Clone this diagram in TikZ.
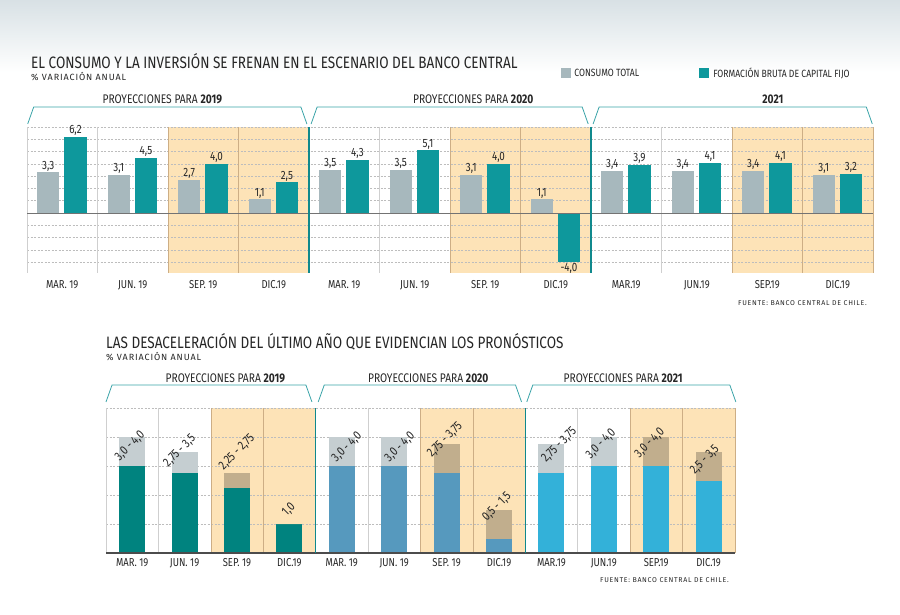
\documentclass[tikz,border=0pt]{standalone}
\usepackage{fontspec}
\setmainfont{Fira Sans}[FakeStretch=0.82]
\newfontfamily\spaced{Fira Sans}[LetterSpace=10]
\usetikzlibrary{positioning}

\definecolor{bgtop}{HTML}{D8E1E5}
\definecolor{ink}{HTML}{262626}
\definecolor{topgray}{HTML}{A7B8BD}
\definecolor{topteal}{HTML}{0E989C}
\definecolor{shadec}{HTML}{FDE3B7}
\definecolor{brk}{HTML}{3AA3A8}
\definecolor{sepc}{HTML}{10898D}
\definecolor{gridc}{HTML}{BDBDBD}
\definecolor{vgray}{HTML}{CFCFCF}
\definecolor{vtan}{HTML}{CDAE85}
\definecolor{upgray}{HTML}{C5CED1}
\definecolor{uptan}{HTML}{C1AE8D}
\definecolor{bteal}{HTML}{00837F}
\definecolor{bblue}{HTML}{5699BE}
\definecolor{bcyan}{HTML}{33B1D9}

\tikzset{
  ttl/.style={font=\fontsize{16.5}{16.5}\selectfont,anchor=base west,inner sep=0pt,text=ink},
  subt/.style={font=\spaced\fontsize{9}{9}\selectfont,anchor=base west,inner sep=0pt,text=ink},
  src/.style={font=\spaced\fontsize{7}{7}\selectfont,anchor=base east,inner sep=0pt,text=ink},
  legtxt/.style={font=\fontsize{10.5}{10.5}\selectfont,inner sep=0pt,text=ink},
  key/.style={minimum size=10pt,inner sep=0pt},
  grp/.style={font=\fontsize{12.5}{12.5}\selectfont,anchor=base,inner sep=0pt,text=ink},
  axl/.style={font=\fontsize{11.5}{11.5}\selectfont,anchor=base,inner sep=0pt,text=ink},
  val/.style={font=\fontsize{12}{12}\selectfont,inner sep=1pt,text=ink},
  rng/.style={font=\fontsize{12.5}{12.5}\selectfont,rotate=45,inner sep=0pt,text=ink},
  gridline/.style={gridc,dash pattern=on 2pt off 1.5pt,line width=0.5pt},
  colline/.style={line width=0.6pt},
  brkt/.style={brk,line width=0.8pt},
  sepline/.style={sepc,line width=1.2pt},
}

\begin{document}
\begin{tikzpicture}[x=1pt,y=-1pt]
\useasboundingbox (0,0) rectangle (900,614);
\shade[top color=bgtop,bottom color=white] (0,0) rectangle (900,72);

% first chart
\node[ttl] (t1) at (31,68) {EL CONSUMO Y LA INVERSIÓN SE FRENAN EN EL ESCENARIO DEL BANCO CENTRAL};
\node[subt] (s1) at (31,80) {\% VARIACIÓN ANUAL};
\node[key,fill=topgray] (k1) at (566,73) {};
\node[legtxt,right=3pt of k1] (k1t) {CONSUMO TOTAL};
\node[key,fill=topteal] (k2) at (704,73) {};
\node[legtxt,right=4pt of k2] (k2t) {FORMACIÓN BRUTA DE CAPITAL FIJO};
\node[src] (f1) at (867,305) {FUENTE: BANCO CENTRAL DE CHILE.};

\begin{scope}[shift={(27,213)},x=70.5pt,y=12.3pt]
\foreach \c in {2,6,10}
  \fill[shadec] (\c,7) rectangle (\c+2,-4.9);
\foreach \v in {7,6,5,4,3,2,1,-1,-2,-3,-4}
  \draw[gridline] (0,\v) -- (12,\v);
\foreach \c/\col in {0/vgray,1/vgray,2/vtan,3/vtan,5/vgray,6/vtan,7/vtan,9/vgray,10/vtan,11/vtan,12/vtan}
  \draw[colline,\col] (\c,7) -- (\c,-4.9);
\foreach \i/\g/\t/\gl/\tl/\m in {0/3.3/6.2/{3,3}/{6,2}/MAR. 19,1/3.1/4.5/{3,1}/{4,5}/JUN. 19,
    2/2.7/4.0/{2,7}/{4,0}/SEP. 19,3/1.1/2.5/{1,1}/{2,5}/DIC.19,4/3.5/4.3/{3,5}/{4,3}/MAR. 19,
    5/3.5/5.1/{3,5}/{5,1}/JUN. 19,6/3.1/4.0/{3,1}/{4,0}/SEP. 19,7/1.1/-4.0/{1,1}/{-4,0}/DIC.19,
    8/3.4/3.9/{3,4}/{3,9}/MAR.19,9/3.4/4.1/{3,4}/{4,1}/JUN.19,10/3.4/4.1/{3,4}/{4,1}/SEP.19,
    11/3.1/3.2/{3,1}/{3,2}/DIC.19}{
  \ifdim\t pt<0pt \def\an{north}\else\def\an{south}\fi
  \fill[topgray] ([xshift=-25pt]\i+0.5,0) rectangle ([xshift=-3pt]\i+0.5,\g);
  \fill[topteal] ([xshift=2pt]\i+0.5,0) rectangle ([xshift=24.5pt]\i+0.5,\t);
  \node[val,anchor=south] (g\i) at ([xshift=-14pt]\i+0.5,\g) {\gl};
  \node[val,anchor=\an] (v\i) at ([xshift=13.25pt]\i+0.5,\t) {\tl};
  \node[axl] (m\i) at (\i+0.5,-6.1) {\m};
}
\draw[gray!110,line width=1pt] (0,0) -- (12,0);
\foreach \c in {4,8}
  \draw[sepline] (\c,7) -- (\c,-4.9);
\foreach \a/\b in {0.01/3.97,4.03/7.96,8.03/11.99}
  \draw[brkt] (\a,7.24) -- ([xshift=6pt]\a,8.62) -- ([xshift=-6pt]\b,8.62) -- (\b,7.24);
\node[grp] (p1) at (1.92,8.92) {PROYECCIONES PARA \textbf{2019}};
\node[grp] (p2) at (6.33,8.92) {PROYECCIONES PARA \textbf{2020}};
\node[grp] (p3) at (10.58,8.92) {\textbf{2021}};
\end{scope}

% second chart
\node[ttl] (t2) at (106,348) {LAS DESACELERACIÓN DEL ÚLTIMO AÑO QUE EVIDENCIAN LOS PRONÓSTICOS};
\node[subt] (s2) at (106,360) {\% VARIACIÓN ANUAL};
\node[src] (f2) at (729,582) {FUENTE: BANCO CENTRAL DE CHILE.};

\begin{scope}[shift={(106,553)},x=52.4pt,y=29pt]
\foreach \c in {2,6,10}
  \fill[shadec] (\c,5) rectangle (\c+2,0);
\foreach \v in {5,4,3,2,1}
  \draw[gridline] (0,\v) -- (12,\v);
\foreach \c/\col in {0/vgray,1/vgray,2/vtan,3/vtan,5/vgray,6/vtan,7/vtan,9/vgray,10/vtan,11/vtan,12/vtan}
  \draw[colline,\col] (\c,5) -- (\c,0);
\foreach \i/\lo/\hi/\base/\up/\r/\lx/\ly/\m in {0/3.0/4.0/bteal/upgray/{3,0 - 4,0}/0.46/3.69/MAR. 19,
    1/2.75/3.5/bteal/upgray/{2,75 - 3,5}/1.41/3.52/JUN. 19,
    2/2.25/2.75/bteal/uptan/{2,25 - 2,75}/2.50/3.48/SEP. 19,
    3/1.0/1.0/bteal/uptan/{1,0}/3.49/1.48/DIC.19,
    4/3.0/4.0/bblue/upgray/{3,0 - 4,0}/4.60/3.65/MAR. 19,
    5/3.0/4.0/bblue/upgray/{3,0 - 4,0}/5.61/3.65/JUN. 19,
    6/2.75/3.75/bblue/uptan/{2,75 - 3,75}/6.47/3.90/SEP. 19,
    7/0.5/1.5/bblue/uptan/{0,5 - 1,5}/7.46/1.59/DIC.19,
    8/2.75/3.75/bcyan/upgray/{2,75 - 3,75}/8.65/3.72/MAR.19,
    9/3.0/4.0/bcyan/upgray/{3,0 - 4,0}/9.45/3.76/JUN.19,
    10/3.0/4.0/bcyan/uptan/{3,0 - 4,0}/10.38/3.79/SEP.19,
    11/2.5/3.5/bcyan/uptan/{2,5 - 3,5}/11.43/3.21/DIC.19}{
  \fill[\base] ([xshift=-13pt]\i+0.5,0) rectangle ([xshift=13pt]\i+0.5,\lo);
  \fill[\up] ([xshift=-13pt]\i+0.5,\lo) rectangle ([xshift=13pt]\i+0.5,\hi);
  \node[rng] (r\i) at (\lx,\ly) {\r};
  \node[axl] (n\i) at (\i+0.5,-0.48) {\m};
}
\draw[black!70,line width=1.2pt] (0,0) -- (12,0);
\foreach \c in {4,8}
  \draw[sepline] (\c,5) -- (\c,0);
\foreach \a/\b in {0/3.93,4.05/7.93,8.03/12.02}
  \draw[brkt] (\a,5.21) -- ([xshift=6pt]\a,5.79) -- ([xshift=-6pt]\b,5.79) -- (\b,5.21);
\node[grp] (q1) at (2.28,5.87) {PROYECCIONES PARA \textbf{2019}};
\node[grp] (q2) at (6.15,5.87) {PROYECCIONES PARA \textbf{2020}};
\node[grp] (q3) at (9.87,5.87) {PROYECCIONES PARA \textbf{2021}};
\end{scope}
\end{tikzpicture}
\end{document}
